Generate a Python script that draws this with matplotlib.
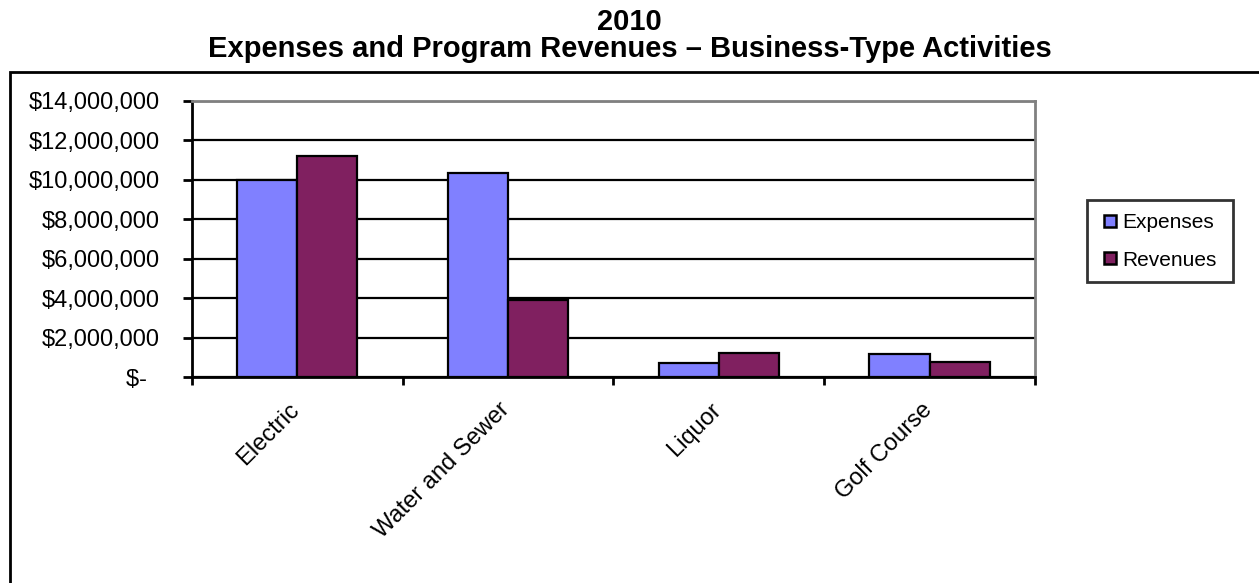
import matplotlib
matplotlib.use("Agg")
import matplotlib.pyplot as plt
import numpy as np
from matplotlib.patches import Rectangle
from matplotlib.lines import Line2D
from matplotlib.ticker import FuncFormatter, MultipleLocator
import matplotlib.transforms as mtransforms

plt.rcParams['font.family'] = ['Liberation Sans', 'DejaVu Sans']

categories = ["Electric", "Water and Sewer", "Liquor", "Golf Course"]
expenses = [10000000, 10370000, 690000, 1150000]
revenues = [11200000, 3920000, 1230000, 760000]
series_names = ["Expenses", "Revenues"]
title_lines = ["2010", "Expenses and Program Revenues \u2013 Business-Type Activities"]

W, H = 1259, 583
fig = plt.figure(figsize=(W / 100, H / 100), dpi=100)

# outer chart frame (extends past right/bottom edges like the reference)
fig.patches.append(Rectangle((10 / W, -0.1), 1.2, 1 - 72 / H + 0.1, transform=fig.transFigure,
                             fill=False, edgecolor='black', linewidth=2.0, zorder=0))

ax = fig.add_axes([191.7 / W, 1 - 377 / H, (1035 - 191.7) / W, (377 - 101) / H])

x = np.arange(len(categories))
bw = 1 / 3.5
c_exp = '#8080FF'
c_rev = '#802060'
ax.bar(x - bw / 2, expenses, width=bw, color=c_exp, edgecolor='black', linewidth=1.6, zorder=3,
       label=series_names[0])
ax.bar(x + bw / 2, revenues, width=bw, color=c_rev, edgecolor='black', linewidth=1.6, zorder=3,
       label=series_names[1])

ax.set_xlim(-0.5, len(categories) - 0.5)
ax.set_ylim(0, 14000000)
ax.yaxis.set_major_locator(MultipleLocator(2000000))


def fmt(v, pos):
    if abs(v) < 1:
        return "$-  "
    return "${:,.0f}".format(v)


ax.yaxis.set_major_formatter(FuncFormatter(fmt))
ax.yaxis.grid(True, color='black', linewidth=1.6, zorder=1)
ax.set_axisbelow(True)

for s in ['left', 'bottom']:
    ax.spines[s].set_color('black')
    ax.spines[s].set_linewidth(2.0)
for s in ['top', 'right']:
    ax.spines[s].set_color('#808080')
    ax.spines[s].set_linewidth(2.0)

ax.tick_params(axis='y', direction='out', length=6.5, width=2, pad=16.5, labelsize=17, colors='black')
ax.set_xticks(np.arange(len(categories) + 1) - 0.5, minor=False)
ax.set_xticklabels([])
ax.tick_params(axis='x', which='major', direction='out', length=5.5, width=2)
ax.set_xticks(x, minor=True)
ax.set_xticklabels(categories, minor=True, rotation=45, ha='right', va='top', rotation_mode='anchor',
                   fontsize=17)
ax.tick_params(axis='x', which='minor', length=0, pad=15.5)
offset = mtransforms.ScaledTranslation(-9 / 100, 0, fig.dpi_scale_trans)
for lbl in ax.get_xticklabels(minor=True):
    lbl.set_transform(lbl.get_transform() + offset)

fig.text(0.5, 1 - 30 / H, title_lines[0], ha='center', va='baseline',
         fontsize=21, fontweight='bold')
fig.text(0.5, 1 - 57 / H, title_lines[1], ha='center', va='baseline',
         fontsize=21, fontweight='bold')

handles = [Line2D([], [], linestyle='none', marker='s', markersize=8, markerfacecolor=c_exp,
                  markeredgecolor='black', markeredgewidth=1.8),
           Line2D([], [], linestyle='none', marker='s', markersize=8, markerfacecolor=c_rev,
                  markeredgecolor='black', markeredgewidth=1.8)]
lx0, lx1, ly0 = 1087, 1233, 201
leg = fig.legend(handles, series_names, loc='upper left',
                 bbox_to_anchor=(lx0 / W, 1 - ly0 / H, (lx1 - lx0) / W, 0.001),
                 bbox_transform=fig.transFigure, mode='expand', fontsize=15, frameon=True,
                 fancybox=False, edgecolor='black', handlelength=1.05, handletextpad=0.05,
                 borderpad=0.6, labelspacing=0.9, borderaxespad=0)
leg.get_frame().set_linewidth(2.0)

fig.savefig("out.png", dpi=100)
